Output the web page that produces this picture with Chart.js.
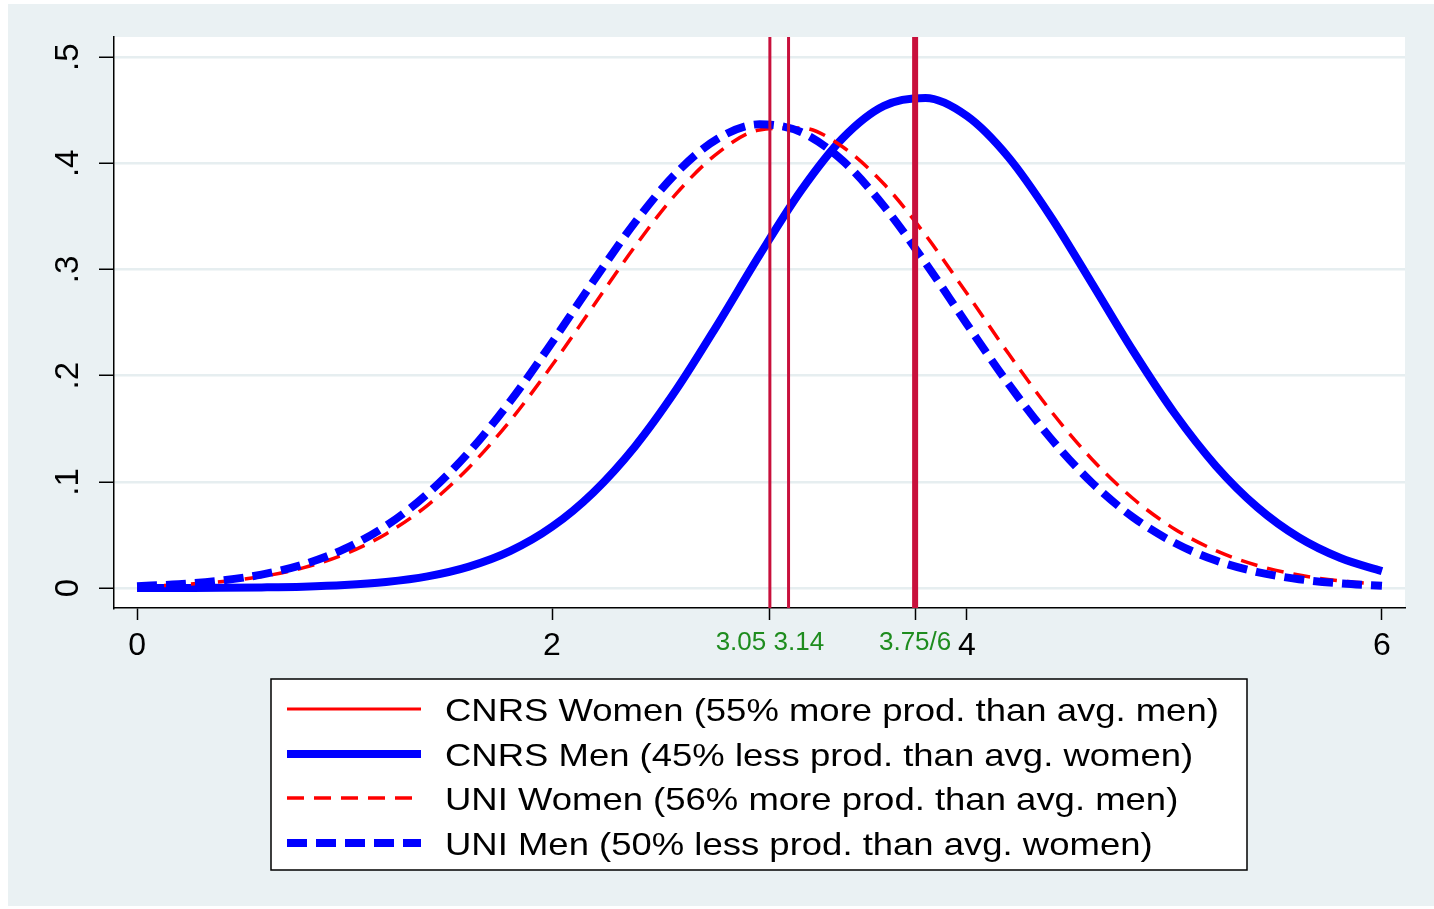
<!DOCTYPE html>
<html>
<head>
<meta charset="utf-8">
<script src="https://cdn.jsdelivr.net/npm/chart.js@4.4.1/dist/chart.umd.min.js"></script>
<style>
  html, body { margin: 0; padding: 0; background: #fff; }
  #wrap { width: 1434px; height: 909px; position: relative; }
</style>
</head>
<body>
<div id="wrap"><canvas id="densChart"></canvas></div>
<script>
// productivity densities
const xs = [0, 0.2, 0.4, 0.6, 0.8, 1.0, 1.2, 1.4, 1.6, 1.8, 2.0, 2.2, 2.4, 2.6, 2.8, 3.0,
            3.2, 3.4, 3.6, 3.8, 4.0, 4.2, 4.4, 4.6, 4.8, 5.0, 5.2, 5.4, 5.6, 5.8, 6.0];
const cnrsWomen = []; // in the legend, not visible in the plot
const cnrsMen = [0.0000, 0.0001, 0.0002, 0.0006, 0.0013, 0.0028, 0.0057, 0.0110, 0.0202, 0.0350, 0.0577,
                 0.0902, 0.1334, 0.1872, 0.2489, 0.3135, 0.3743, 0.4235, 0.4541, 0.4615, 0.4445,
                 0.4057, 0.3509, 0.2877, 0.2235, 0.1646, 0.1149, 0.0760, 0.0476, 0.0283, 0.0159];
const uniWomen = [0.0015, 0.0031, 0.0059, 0.0108, 0.0190, 0.0319, 0.0510, 0.0779, 0.1136, 0.1580, 0.2098,
                  0.2659, 0.3218, 0.3717, 0.4099, 0.4314, 0.4334, 0.4156, 0.3805, 0.3325, 0.2773,
                  0.2208, 0.1678, 0.1218, 0.0843, 0.0557, 0.0352, 0.0212, 0.0122, 0.0067, 0.0035];
const uniMen = [0.0018, 0.0036, 0.0069, 0.0127, 0.0221, 0.0369, 0.0586, 0.0888, 0.1281, 0.1763, 0.2313,
                0.2891, 0.3444, 0.3911, 0.4234, 0.4368, 0.4295, 0.4026, 0.3596, 0.3062, 0.2485,
                0.1922, 0.1418, 0.0996, 0.0667, 0.0426, 0.0259, 0.0150, 0.0083, 0.0044, 0.0022];
const meanLines = [3.05, 3.14, 3.75];

const xTickVals = [0, 2, 3.05, 3.75, 4, 6];
const xTickLabels = ['0', '2', '3.05 3.14', '3.75/6', '4', '6'];
const yTickVals = [0, 0.1, 0.2, 0.3, 0.4, 0.5];
const yTickLabels = ['0', '.1', '.2', '.3', '.4', '.5'];
const legendLabels = [
  'CNRS Women (55% more prod. than avg. men)',
  'CNRS Men (45% less prod. than avg. women)',
  'UNI Women (56% more prod. than avg. men)',
  'UNI Men (50% less prod. than avg. women)'
];

const X_MIN = -0.111, X_MAX = 6.111, Y_MIN = -0.0188, Y_MAX = 0.519;
const FONT = "'Liberation Sans', Arial, sans-serif";
const BG = '#EAF1F3';
const CRIMSON = '#C8103C';
const GREEN = '#1E8C1E';

const pts = arr => arr.map((y, i) => ({ x: xs[i], y }));

const curves = [
  { label: legendLabels[0], data: pts(cnrsWomen), borderColor: '#FF0000', borderWidth: 3, borderDash: [], order: 4 },
  { label: legendLabels[1], data: pts(cnrsMen), borderColor: '#0000FF', borderWidth: 8, borderDash: [], order: 3 },
  { label: legendLabels[2], data: pts(uniWomen), borderColor: '#FF0000', borderWidth: 3.5, borderDash: [17, 10], order: 2 },
  { label: legendLabels[3], data: pts(uniMen), borderColor: '#0000FF', borderWidth: 8, borderDash: [20, 9], order: 1 }
].map(d => Object.assign(d, { pointRadius: 0, cubicInterpolationMode: 'monotone', fill: false, borderCapStyle: 'butt', isCurve: true }));

const vlines = meanLines.map((m, i) => ({
  label: '',
  data: [{ x: m, y: Y_MIN }, { x: m, y: Y_MAX }],
  borderColor: CRIMSON,
  borderWidth: i === 2 ? 6 : 3,
  pointRadius: 0,
  order: 0
}));

const background = {
  id: 'background',
  beforeDraw(chart) {
    const { ctx, chartArea: a } = chart;
    ctx.save();
    ctx.fillStyle = '#fff';
    ctx.fillRect(0, 0, chart.width, chart.height);
    ctx.fillStyle = BG;
    ctx.fillRect(8, 4, chart.width - 8, chart.height - 7);
    ctx.fillStyle = '#fff';
    ctx.fillRect(a.left, a.top, a.right - a.left, a.bottom - a.top);
    ctx.restore();
  }
};

// Stata-style boxed legend under the plot
const boxLegend = {
  id: 'boxLegend',
  afterDraw(chart) {
    const ctx = chart.ctx;
    const box = { x: 271, y: 679, w: 976, h: 191 };
    const rows = [709, 754, 798, 843];
    ctx.save();
    ctx.fillStyle = '#fff';
    ctx.fillRect(box.x, box.y, box.w, box.h);
    ctx.strokeStyle = '#000';
    ctx.lineWidth = 1.5;
    ctx.strokeRect(box.x, box.y, box.w, box.h);
    chart.data.datasets.filter(d => d.isCurve).forEach((d, i) => {
      const y = rows[i];
      ctx.beginPath();
      ctx.setLineDash(d.borderDash);
      ctx.lineCap = 'butt';
      ctx.strokeStyle = d.borderColor;
      ctx.lineWidth = d.borderWidth;
      ctx.moveTo(287, y);
      ctx.lineTo(421, y);
      ctx.stroke();
      ctx.setLineDash([]);
      ctx.save();
      ctx.translate(445, y + 12);
      ctx.scale(1.14, 1);
      ctx.fillStyle = '#000';
      ctx.font = '32px ' + FONT;
      ctx.textBaseline = 'alphabetic';
      ctx.fillText(d.label, 0, 0);
      ctx.restore();
    });
    ctx.restore();
  }
};

new Chart(document.getElementById('densChart'), {
  type: 'line',
  data: { datasets: curves.concat(vlines) },
  options: {
    responsive: true, maintainAspectRatio: false, animation: false,
    layout: { padding: { top: 37, right: 29, bottom: 0, left: 0 } },
    plugins: { legend: { display: false }, tooltip: { enabled: false } },
    scales: {
      x: {
        type: 'linear', min: X_MIN, max: X_MAX,
        afterBuildTicks: s => { s.ticks = xTickVals.map(v => ({ value: v })); },
        afterFit: s => { s.height = 301; },
        grid: { drawOnChartArea: false, drawTicks: true, tickLength: 12, tickColor: '#000', tickWidth: 1.5 },
        border: { color: '#000', width: 1.5 },
        ticks: {
          autoSkip: false, maxRotation: 0, minRotation: 0, padding: 7,
          callback: (v, i) => xTickLabels[i],
          color: c => (xTickVals[c.index] % 1 === 0 ? '#000' : GREEN),
          font: c => ({ family: FONT, size: xTickVals[c.index] % 1 === 0 ? 32 : 26 })
        }
      },
      y: {
        type: 'linear', min: Y_MIN, max: Y_MAX,
        afterBuildTicks: s => { s.ticks = yTickVals.map(v => ({ value: v })); },
        afterFit: s => { s.width = 114; },
        grid: { color: '#E6EEF0', lineWidth: 2.5, tickLength: 15, tickColor: '#000', tickWidth: 1.5 },
        border: { color: '#000', width: 1.5 },
        ticks: {
          minRotation: 90, maxRotation: 90, crossAlign: 'center', padding: 16,
          callback: (v, i) => yTickLabels[i],
          color: '#000', font: { family: FONT, size: 33 }
        }
      }
    }
  },
  plugins: [background, boxLegend]
});
</script>
</body>
</html>
